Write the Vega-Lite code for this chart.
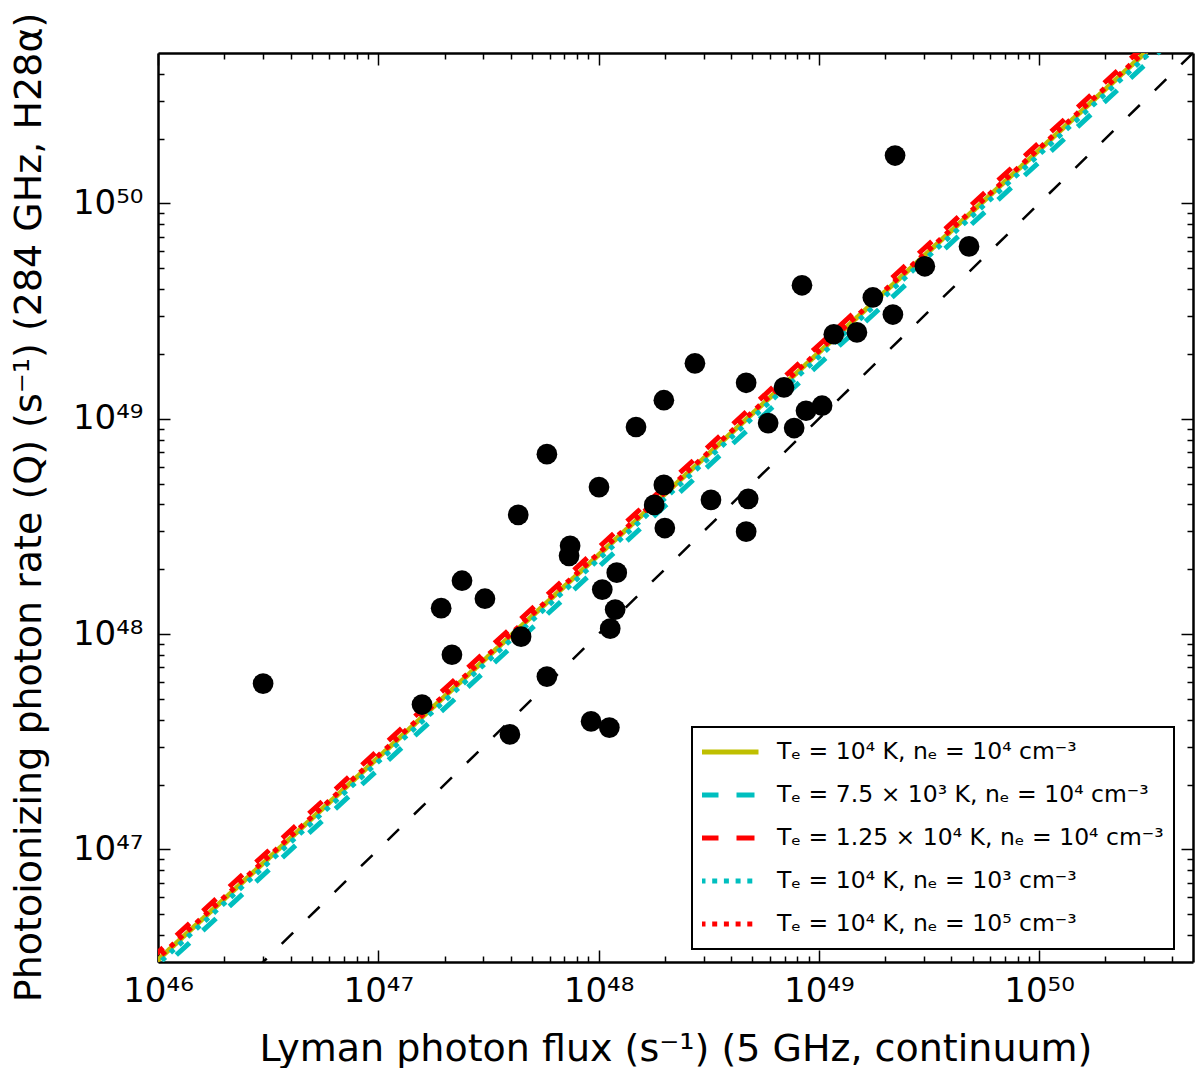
{
  "$schema": "https://vega.github.io/schema/vega-lite/v6.json",
  "width": 1035,
  "height": 909,
  "autosize": {"type": "none"},
  "padding": {"left": 158, "top": 53, "right": 7, "bottom": 106},
  "background": "white",
  "config": {
    "view": {"stroke": null},
    "font": "DejaVu Sans",
    "axis": {
      "grid": false,
      "domainColor": "black",
      "domainWidth": 2.5,
      "tickColor": "black",
      "tickWidth": 1.5,
      "labelFont": "DejaVu Sans",
      "labelFontSize": 34,
      "labelColor": "black",
      "labelFlush": false,
      "labelOverlap": false,
      "titleFont": "DejaVu Sans",
      "titleFontSize": 38,
      "titleFontWeight": "normal",
      "titleColor": "black"
    },
    "legend": {
      "orient": "none",
      "legendX": 534,
      "legendY": 674,
      "symbolType": "stroke",
      "symbolSize": 3364,
      "symbolStrokeWidth": 5,
      "symbolOffset": -4,
      "clipHeight": 30,
      "labelFont": "DejaVu Sans",
      "labelFontSize": 23.5,
      "labelColor": "black",
      "labelLimit": 0,
      "labelOffset": 16,
      "padding": 10,
      "rowPadding": 13,
      "strokeColor": "black",
      "fillColor": "white",
      "cornerRadius": 0,
      "offset": 0
    }
  },
  "datasets": {
    "points": [
      {"x": 3.0e46, "y": 5.89e47},
      {"x": 1.58e47, "y": 4.71e47},
      {"x": 1.93e47, "y": 1.32e48},
      {"x": 2.16e47, "y": 8.02e47},
      {"x": 2.40e47, "y": 1.77e48},
      {"x": 3.05e47, "y": 1.46e48},
      {"x": 3.96e47, "y": 3.42e47},
      {"x": 4.32e47, "y": 3.58e48},
      {"x": 4.45e47, "y": 9.73e47},
      {"x": 5.83e47, "y": 6.85e48},
      {"x": 5.83e47, "y": 6.35e47},
      {"x": 7.35e47, "y": 2.31e48},
      {"x": 7.43e47, "y": 2.57e48},
      {"x": 9.25e47, "y": 3.93e47},
      {"x": 1.005e48, "y": 4.82e48},
      {"x": 1.04e48, "y": 1.61e48},
      {"x": 1.12e48, "y": 3.68e47},
      {"x": 1.13e48, "y": 1.06e48},
      {"x": 1.19e48, "y": 1.30e48},
      {"x": 1.21e48, "y": 1.93e48},
      {"x": 1.48e48, "y": 9.16e48},
      {"x": 1.79e48, "y": 3.98e48},
      {"x": 1.98e48, "y": 1.22e49},
      {"x": 1.98e48, "y": 4.93e48},
      {"x": 2.00e48, "y": 3.11e48},
      {"x": 2.74e48, "y": 1.81e49},
      {"x": 3.24e48, "y": 4.20e48},
      {"x": 4.68e48, "y": 1.47e49},
      {"x": 4.78e48, "y": 4.25e48},
      {"x": 4.68e48, "y": 2.99e48},
      {"x": 5.89e48, "y": 9.55e48},
      {"x": 6.95e48, "y": 1.40e49},
      {"x": 7.73e48, "y": 9.06e48},
      {"x": 8.39e48, "y": 4.17e49},
      {"x": 8.75e48, "y": 1.09e49},
      {"x": 1.035e49, "y": 1.15e49},
      {"x": 1.17e49, "y": 2.47e49},
      {"x": 1.49e49, "y": 2.52e49},
      {"x": 1.76e49, "y": 3.66e49},
      {"x": 2.17e49, "y": 3.05e49},
      {"x": 2.22e49, "y": 1.67e50},
      {"x": 3.03e49, "y": 5.11e49},
      {"x": 4.81e49, "y": 6.32e49}
    ],
    "identity": [
      {"x": 1e45, "y": 1e45},
      {"x": 1e51, "y": 1e51}
    ],
    "models": [
      {"model": "Tₑ = 10⁴ K, nₑ = 10⁴ cm⁻³", "x": 1e45, "y": 3.52e45},
      {"model": "Tₑ = 10⁴ K, nₑ = 10⁴ cm⁻³", "x": 1e51, "y": 1.54e51},
      {"model": "Tₑ = 7.5 × 10³ K, nₑ = 10⁴ cm⁻³", "x": 1e45, "y": 3.10e45},
      {"model": "Tₑ = 7.5 × 10³ K, nₑ = 10⁴ cm⁻³", "x": 1e51, "y": 1.355e51},
      {"model": "Tₑ = 1.25 × 10⁴ K, nₑ = 10⁴ cm⁻³", "x": 1e45, "y": 3.82e45},
      {"model": "Tₑ = 1.25 × 10⁴ K, nₑ = 10⁴ cm⁻³", "x": 1e51, "y": 1.667e51},
      {"model": "Tₑ = 10⁴ K, nₑ = 10³ cm⁻³", "x": 1e45, "y": 3.37e45},
      {"model": "Tₑ = 10⁴ K, nₑ = 10³ cm⁻³", "x": 1e51, "y": 1.469e51},
      {"model": "Tₑ = 10⁴ K, nₑ = 10⁵ cm⁻³", "x": 1e45, "y": 3.59e45},
      {"model": "Tₑ = 10⁴ K, nₑ = 10⁵ cm⁻³", "x": 1e51, "y": 1.567e51}
    ]
  },
  "resolve": {"axis": {"x": "independent", "y": "independent"}},
  "layer": [
    {
      "data": {"name": "identity"},
      "mark": {"type": "line", "color": "black", "strokeWidth": 2.5, "strokeDash": [16, 21], "clip": true},
      "encoding": {
        "x": {"field": "x", "type": "quantitative", "scale": {"type": "log", "domain": [1e46, 5e50], "nice": false},
          "axis": {"orient": "bottom", "values": [1e46, 1e47, 1e48, 1e49, 1e50], "tickSize": -12, "labelPadding": 24,
            "labelExpr": "['10⁴⁶','10⁴⁷','10⁴⁸','10⁴⁹','10⁵⁰'][round(log(datum.value)/LN10)-46]",
            "title": "Lyman photon flux (s⁻¹) (5 GHz, continuum)", "titleY": 98, "titleBaseline": "alphabetic"}},
        "y": {"field": "y", "type": "quantitative", "scale": {"type": "log", "domain": [3e46, 5e50], "nice": false},
          "axis": {"orient": "left", "values": [1e47, 1e48, 1e49, 1e50], "tickSize": -12, "labelPadding": 27,
            "labelExpr": "['10⁴⁶','10⁴⁷','10⁴⁸','10⁴⁹','10⁵⁰'][round(log(datum.value)/LN10)-46]",
            "title": "Photoionizing photon rate (Q) (s⁻¹) (284 GHz, H28α)", "titleAngle": -90, "titleX": -118, "titleY": 454, "titleAlign": "center", "titleBaseline": "alphabetic"}}
      }
    },
    {
      "data": {"name": "models"},
      "transform": [{"filter": "datum.model === 'Tₑ = 10⁴ K, nₑ = 10⁴ cm⁻³'"}],
      "mark": {"type": "line", "strokeWidth": 5, "clip": true},
      "encoding": {
        "x": {"field": "x", "type": "quantitative", "scale": {"type": "log", "domain": [1e46, 5e50], "nice": false},
          "axis": {"orient": "bottom", "domain": false, "labels": false, "title": null, "tickSize": -6,
            "values": [2e46,3e46,4e46,5e46,6e46,7e46,8e46,9e46,2e47,3e47,4e47,5e47,6e47,7e47,8e47,9e47,2e48,3e48,4e48,5e48,6e48,7e48,8e48,9e48,2e49,3e49,4e49,5e49,6e49,7e49,8e49,9e49,2e50,3e50,4e50]}},
        "y": {"field": "y", "type": "quantitative", "scale": {"type": "log", "domain": [3e46, 5e50], "nice": false},
          "axis": {"orient": "left", "domain": false, "labels": false, "title": null, "tickSize": -6,
            "values": [4e46,5e46,6e46,7e46,8e46,9e46,2e47,3e47,4e47,5e47,6e47,7e47,8e47,9e47,2e48,3e48,4e48,5e48,6e48,7e48,8e48,9e48,2e49,3e49,4e49,5e49,6e49,7e49,8e49,9e49,2e50,3e50,4e50]}},
        "color": {"field": "model", "type": "nominal", "title": null,
          "scale": {"domain": ["Tₑ = 10⁴ K, nₑ = 10⁴ cm⁻³", "Tₑ = 7.5 × 10³ K, nₑ = 10⁴ cm⁻³", "Tₑ = 1.25 × 10⁴ K, nₑ = 10⁴ cm⁻³", "Tₑ = 10⁴ K, nₑ = 10³ cm⁻³", "Tₑ = 10⁴ K, nₑ = 10⁵ cm⁻³"],
            "range": ["#bfbf00", "#00bfbf", "#ff0000", "#00bfbf", "#ff0000"]},
          "legend": {"encode": {"legend": {"update": {"strokeWidth": {"value": 2}}}}}},
        "strokeDash": {"field": "model", "type": "nominal", "title": null,
          "scale": {"domain": ["Tₑ = 10⁴ K, nₑ = 10⁴ cm⁻³", "Tₑ = 7.5 × 10³ K, nₑ = 10⁴ cm⁻³", "Tₑ = 1.25 × 10⁴ K, nₑ = 10⁴ cm⁻³", "Tₑ = 10⁴ K, nₑ = 10³ cm⁻³", "Tₑ = 10⁴ K, nₑ = 10⁵ cm⁻³"],
            "range": [[1, 0], [18, 18], [18, 18], [5, 6.7], [5, 6.7]]}}
      }
    },
    {
      "data": {"name": "models"},
      "transform": [{"filter": "datum.model === 'Tₑ = 7.5 × 10³ K, nₑ = 10⁴ cm⁻³'"}],
      "mark": {"type": "line", "strokeWidth": 5, "clip": true},
      "encoding": {
        "x": {"field": "x", "type": "quantitative", "scale": {"type": "log", "domain": [1e46, 5e50], "nice": false},
          "axis": {"orient": "top", "labels": false, "title": null, "tickSize": -12, "values": [1e46, 1e47, 1e48, 1e49, 1e50]}},
        "y": {"field": "y", "type": "quantitative", "scale": {"type": "log", "domain": [3e46, 5e50], "nice": false},
          "axis": {"orient": "right", "labels": false, "title": null, "tickSize": -12, "values": [1e47, 1e48, 1e49, 1e50]}},
        "color": {"field": "model", "type": "nominal", "title": null},
        "strokeDash": {"field": "model", "type": "nominal", "title": null}
      }
    },
    {
      "data": {"name": "models"},
      "transform": [{"filter": "datum.model === 'Tₑ = 1.25 × 10⁴ K, nₑ = 10⁴ cm⁻³'"}],
      "mark": {"type": "line", "strokeWidth": 5, "clip": true},
      "encoding": {
        "x": {"field": "x", "type": "quantitative", "scale": {"type": "log", "domain": [1e46, 5e50], "nice": false},
          "axis": {"orient": "top", "domain": false, "labels": false, "title": null, "tickSize": -6,
            "values": [2e46,3e46,4e46,5e46,6e46,7e46,8e46,9e46,2e47,3e47,4e47,5e47,6e47,7e47,8e47,9e47,2e48,3e48,4e48,5e48,6e48,7e48,8e48,9e48,2e49,3e49,4e49,5e49,6e49,7e49,8e49,9e49,2e50,3e50,4e50]}},
        "y": {"field": "y", "type": "quantitative", "scale": {"type": "log", "domain": [3e46, 5e50], "nice": false},
          "axis": {"orient": "right", "domain": false, "labels": false, "title": null, "tickSize": -6,
            "values": [4e46,5e46,6e46,7e46,8e46,9e46,2e47,3e47,4e47,5e47,6e47,7e47,8e47,9e47,2e48,3e48,4e48,5e48,6e48,7e48,8e48,9e48,2e49,3e49,4e49,5e49,6e49,7e49,8e49,9e49,2e50,3e50,4e50]}},
        "color": {"field": "model", "type": "nominal", "title": null},
        "strokeDash": {"field": "model", "type": "nominal", "title": null}
      }
    },
    {
      "data": {"name": "models"},
      "transform": [{"filter": "datum.model === 'Tₑ = 10⁴ K, nₑ = 10³ cm⁻³'"}],
      "mark": {"type": "line", "strokeWidth": 5, "clip": true},
      "encoding": {
        "x": {"field": "x", "type": "quantitative", "scale": {"type": "log", "domain": [1e46, 5e50], "nice": false}, "axis": null},
        "y": {"field": "y", "type": "quantitative", "scale": {"type": "log", "domain": [3e46, 5e50], "nice": false}, "axis": null},
        "color": {"field": "model", "type": "nominal", "title": null},
        "strokeDash": {"field": "model", "type": "nominal", "title": null}
      }
    },
    {
      "data": {"name": "models"},
      "transform": [{"filter": "datum.model === 'Tₑ = 10⁴ K, nₑ = 10⁵ cm⁻³'"}],
      "mark": {"type": "line", "strokeWidth": 5, "clip": true},
      "encoding": {
        "x": {"field": "x", "type": "quantitative", "scale": {"type": "log", "domain": [1e46, 5e50], "nice": false}, "axis": null},
        "y": {"field": "y", "type": "quantitative", "scale": {"type": "log", "domain": [3e46, 5e50], "nice": false}, "axis": null},
        "color": {"field": "model", "type": "nominal", "title": null},
        "strokeDash": {"field": "model", "type": "nominal", "title": null}
      }
    },
    {
      "data": {"name": "points"},
      "mark": {"type": "circle", "color": "black", "opacity": 1, "size": 430},
      "encoding": {
        "x": {"field": "x", "type": "quantitative", "scale": {"type": "log", "domain": [1e46, 5e50], "nice": false}, "axis": null},
        "y": {"field": "y", "type": "quantitative", "scale": {"type": "log", "domain": [3e46, 5e50], "nice": false}, "axis": null}
      }
    }
  ]
}
